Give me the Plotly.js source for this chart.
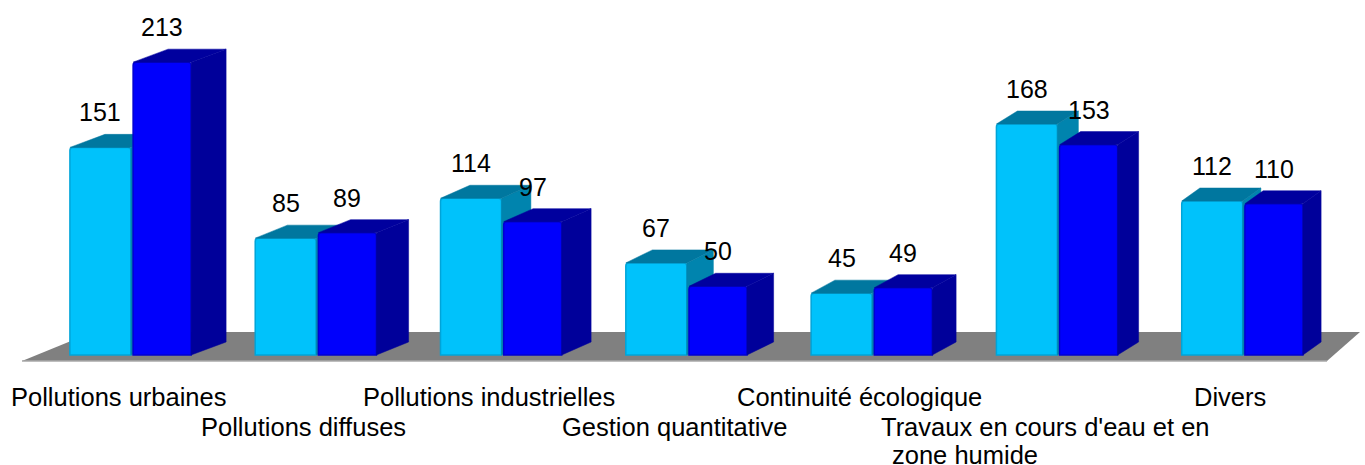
<!DOCTYPE html>
<html><head><meta charset="utf-8">
<script src="https://cdn.plot.ly/plotly-3.0.1.min.js"></script>
<style>html,body{margin:0;padding:0;background:#fff}</style>
</head><body><div id="chart" style="width:1365px;height:465px"></div>
<script>
// ---- data ----
const categories = ["Pollutions urbaines", "Pollutions diffuses", "Pollutions industrielles", "Gestion quantitative", "Continuité écologique", "Travaux en cours d'eau et en<br>zone humide", "Divers"];
const series1 = [151, 85, 114, 67, 45, 168, 112];
const series2 = [213, 89, 97, 50, 49, 153, 110];
const labelRow = [0, 1, 0, 1, 0, 1, 0];

// ---- geometry / style ----
const W = 1365, H = 465;
const PX_PER_CAT = 185.3, PX_PER_VAL = 1.375;
const CAT0_PX = 132, ZERO_PX = 355, PLOT_BOTTOM_PX = 375;
const xMin = -CAT0_PX / PX_PER_CAT, xMax = (W - CAT0_PX) / PX_PER_CAT;
const yMax = ZERO_PX / PX_PER_VAL, yMin = -(PLOT_BOTTOM_PX - ZERO_PX) / PX_PER_VAL;
const depthY = 13 / PX_PER_VAL;
function depthX(i) { return (35 - 2.8 * i) / PX_PER_CAT; }
const fx = px => (px - CAT0_PX) / PX_PER_CAT;
const fy = py => (ZERO_PX - py) / PX_PER_VAL;
const FAMILY = "Liberation Sans, Arial, sans-serif";
const FONT = {family: FAMILY, size: 25, color: "#000"};
const CAT_FONT = {family: FAMILY, size: 25.5, color: "#000"};

const styles = [
  {vals: series1, offset: -0.335, width: 0.329, front: '#00c2fb', side: '#0084ae', top: '#00779f', edge: '#00a4d8', xa: 'x', ya: 'y'},
  {vals: series2, offset: 0.006, width: 0.313, front: '#0000fc', side: '#00009a', top: '#00009e', edge: '#0000d0', xa: 'x2', ya: 'y2'}
];

const traces = [];
styles.forEach(s => {
  const sx = [], sy = [], tx = [], ty = [];
  s.vals.forEach((v, i) => {
    const xl = i + s.offset, xr = xl + s.width, dx = depthX(i);
    sx.push(xr, xr + dx, xr + dx, xr, xr, null);
    sy.push(0, depthY, v + depthY, v, 0, null);
    tx.push(xl, xl + dx, xr + dx, xr, xl, null);
    ty.push(v, v + depthY, v + depthY, v, v, null);
  });
  traces.push({type: 'scatter', mode: 'lines', x: sx, y: sy, fill: 'toself', fillcolor: s.side,
    line: {width: 0.5, color: s.side}, xaxis: s.xa, yaxis: s.ya, hoverinfo: 'skip', showlegend: false});
  traces.push({type: 'scatter', mode: 'lines', x: tx, y: ty, fill: 'toself', fillcolor: s.top,
    line: {width: 0.5, color: s.top}, xaxis: s.xa, yaxis: s.ya, hoverinfo: 'skip', showlegend: false});
  traces.push({type: 'bar', x: s.vals.map((v, i) => i), y: s.vals, offset: s.offset, width: s.width,
    marker: {color: s.front, line: {width: 1.5, color: s.edge}, cornerradius: 3},
    xaxis: s.xa, yaxis: s.ya, hoverinfo: 'skip', showlegend: false});
});

const annotations = [];
styles.forEach(s => {
  s.vals.forEach((v, i) => {
    annotations.push({x: i + s.offset + s.width / 2, y: v, xref: 'x', yref: 'y', text: String(v),
      showarrow: false, yanchor: 'bottom', yshift: 19, font: FONT});
  });
});

// text measurement for continuation lines of wrapped category labels
const ctx = document.createElement('canvas').getContext('2d');
ctx.font = CAT_FONT.size + "px 'Liberation Sans'";
categories.forEach((c, i) => {
  const lines = c.split('<br>');
  const x = i - 13.5 / PX_PER_CAT;
  const w0 = ctx.measureText(lines[0]).width;
  lines.forEach((ln, k) => {
    const a = {x: x, y: 0, xref: 'x', yref: 'paper', text: ln, showarrow: false,
      yanchor: 'top', yshift: -6 - 30 * labelRow[i] - 28 * k, font: CAT_FONT};
    if (k > 0) { a.xanchor = 'left'; a.xshift = -w0 / 2 + 9; }
    annotations.push(a);
  });
});

const floorPath = `M${fx(22)},${fy(361)} L${fx(93)},${fy(332)} L${fx(1360)},${fy(332)} L${fx(1327)},${fy(361)} Z`;

const ax = {range: [xMin, xMax], visible: false, fixedrange: true};
const ay = {range: [yMin, yMax], visible: false, fixedrange: true};
const layout = {
  width: W, height: H,
  margin: {l: 0, r: 0, t: 0, b: H - PLOT_BOTTOM_PX, pad: 0},
  paper_bgcolor: '#fff', plot_bgcolor: 'rgba(0,0,0,0)',
  barmode: 'overlay', showlegend: false,
  xaxis: Object.assign({}, ax),
  yaxis: Object.assign({}, ay),
  xaxis2: Object.assign({overlaying: 'x'}, ax),
  yaxis2: Object.assign({overlaying: 'y'}, ay),
  shapes: [
    {type: 'path', path: floorPath, xref: 'x', yref: 'y', fillcolor: '#808080', line: {width: 0}, layer: 'below'},
    {type: 'line', x0: fx(22), x1: fx(1327), y0: fy(361), y1: fy(361), xref: 'x', yref: 'y', line: {width: 1.5, color: '#a8a8a8'}, layer: 'below'}
  ],
  annotations: annotations
};
Plotly.newPlot('chart', traces, layout, {displayModeBar: false, staticPlot: true});
</script>
</body></html>
